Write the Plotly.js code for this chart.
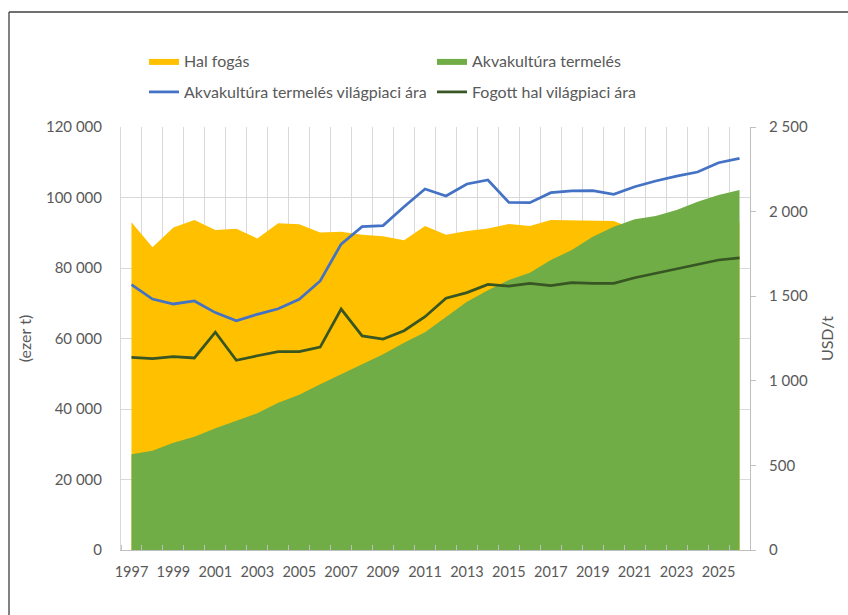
<!DOCTYPE html>
<html>
<head>
<meta charset="utf-8">
<script src="https://cdn.plot.ly/plotly-3.0.1.min.js"></script>
<style>
  html, body { margin: 0; padding: 0; background: #ffffff; overflow: hidden; }
  #chart { width: 848px; height: 615px; }
</style>
</head>
<body>
<div id="chart"></div>
<script>
// ---- data ----
const years = [1997,1998,1999,2000,2001,2002,2003,2004,2005,2006,2007,2008,2009,2010,2011,2012,2013,2014,2015,2016,2017,2018,2019,2020,2021,2022,2023,2024,2025,2026];
const tickYears = [1997,1999,2001,2003,2005,2007,2009,2011,2013,2015,2017,2019,2021,2023,2025];
const tickYearLabels = ["1997","1999","2001","2003","2005","2007","2009","2011","2013","2015","2017","2019","2021","2023","2025"];

// Hal fogás (ezer t)
const halFogas = [93000,85900,91500,93600,90800,91100,88400,92700,92400,90100,90300,89400,89000,87900,91900,89400,90500,91200,92500,91900,93600,93500,93400,93300,91000,91500,92000,92500,93000,93000];
// Akvakultúra termelés (ezer t)
const akvakultura = [27150,28170,30440,32140,34520,36690,38780,41790,44060,47000,49930,52670,55510,58810,61760,66190,70450,73700,76600,78670,82270,85100,88890,91720,93800,94750,96450,98810,100710,102130];
// Akvakultúra termelés világpiaci ára (USD/t)
const akvaAr = [1568,1483,1454,1472,1403,1355,1393,1426,1482,1590,1808,1911,1917,2029,2134,2092,2163,2187,2054,2053,2112,2122,2124,2102,2147,2181,2210,2234,2289,2315];
// Fogott hal világpiaci ára (USD/t)
const halAr = [1139,1131,1143,1135,1287,1121,1148,1172,1172,1199,1424,1265,1247,1296,1379,1488,1521,1570,1560,1576,1562,1580,1576,1576,1609,1635,1665,1690,1714,1727];

const FONT = "Lato, 'Open Sans', Arial, sans-serif";
const TXT = "#595959";

const traces = [
  { x: years, y: halFogas, name: "Hal fogás", type: "scatter", mode: "lines",
    fill: "tozeroy", fillcolor: "#FFC000", line: { width: 0, color: "#FFC000" },
    yaxis: "y", legend: "legend" },
  { x: years, y: akvakultura, name: "Akvakultúra termelés", type: "scatter", mode: "lines",
    fill: "tozeroy", fillcolor: "#70AD47", line: { width: 0, color: "#70AD47" },
    yaxis: "y", legend: "legend2" },
  { x: years, y: akvaAr, name: "Akvakultúra termelés világpiaci ára", type: "scatter", mode: "lines",
    line: { width: 2.75, color: "#4472C4" }, yaxis: "y2", legend: "legend3" },
  { x: years, y: halAr, name: "Fogott hal világpiaci ára", type: "scatter", mode: "lines",
    line: { width: 2.75, color: "#375623" }, yaxis: "y2", legend: "legend4" }
];

function leg(xpx, ypx) {
  return { x: xpx / 848, y: 1 - ypx / 615, xref: "container", yref: "container",
           xanchor: "left", yanchor: "top", orientation: "h",
           font: { family: FONT, size: 16, color: TXT }, bgcolor: "rgba(0,0,0,0)", borderwidth: 0 };
}

const layout = {
  width: 848, height: 615,
  margin: { l: 121, r: 98, t: 127, b: 65, pad: 0 },
  paper_bgcolor: "#ffffff", plot_bgcolor: "#ffffff",
  separators: ", ",
  font: { family: FONT, size: 15, color: TXT },
  showlegend: true,
  legend: leg(144, 44),
  legend2: leg(432, 44),
  legend3: leg(144, 75),
  legend4: leg(432, 75),
  xaxis: {
    type: "linear", range: [1996.5, 2026.5], fixedrange: true,
    tickmode: "array", tickvals: tickYears, ticktext: tickYearLabels,
    ticks: "", showgrid: false, zeroline: false,
    showline: true, linecolor: "#bfbfbf", linewidth: 1,
    ticklabelstandoff: 9,
    tickfont: { family: FONT, size: 14.5, color: TXT },
    minor: { tickmode: "linear", tick0: 1996.5, dtick: 1, showgrid: true,
             gridcolor: "#d9d9d9", gridwidth: 1, ticks: "inside", ticklen: 5,
             tickcolor: "#bfbfbf", tickwidth: 1 }
  },
  yaxis: {
    range: [0, 120000], dtick: 20000, tick0: 0, tickformat: ",d",
    showgrid: true, gridcolor: "#d9d9d9", gridwidth: 1, zeroline: false,
    showline: true, linecolor: "#d9d9d9", linewidth: 1, ticks: "",
    ticklabelstandoff: 15,
    tickfont: { family: FONT, size: 15, color: TXT },
    title: { text: "(ezer t)", font: { family: FONT, size: 16, color: TXT }, standoff: 10 }
  },
  yaxis2: {
    overlaying: "y", side: "right", range: [0, 2500], dtick: 500, tick0: 0, tickformat: ",d",
    showgrid: false, zeroline: false,
    showline: true, linecolor: "#bfbfbf", linewidth: 1,
    ticks: "outside", ticklen: 5, tickcolor: "#bfbfbf", tickwidth: 1,
    ticklabelstandoff: 10,
    tickfont: { family: FONT, size: 15, color: TXT },
    title: { text: "USD/t", font: { family: FONT, size: 16, color: TXT }, standoff: 14 }
  },
  shapes: [
    { type: "line", xref: "paper", yref: "paper", x0: -0.17806, x1: 1.4, y0: 1.2719, y1: 1.2719,
      line: { color: "#404040", width: 1.3 } },
    { type: "line", xref: "paper", yref: "paper", x0: -0.17806, x1: -0.17806, y0: 1.2719, y1: -0.4,
      line: { color: "#404040", width: 1.3 } }
  ]
};

Plotly.newPlot("chart", traces, layout, { displayModeBar: false, staticPlot: true });
</script>
</body>
</html>
